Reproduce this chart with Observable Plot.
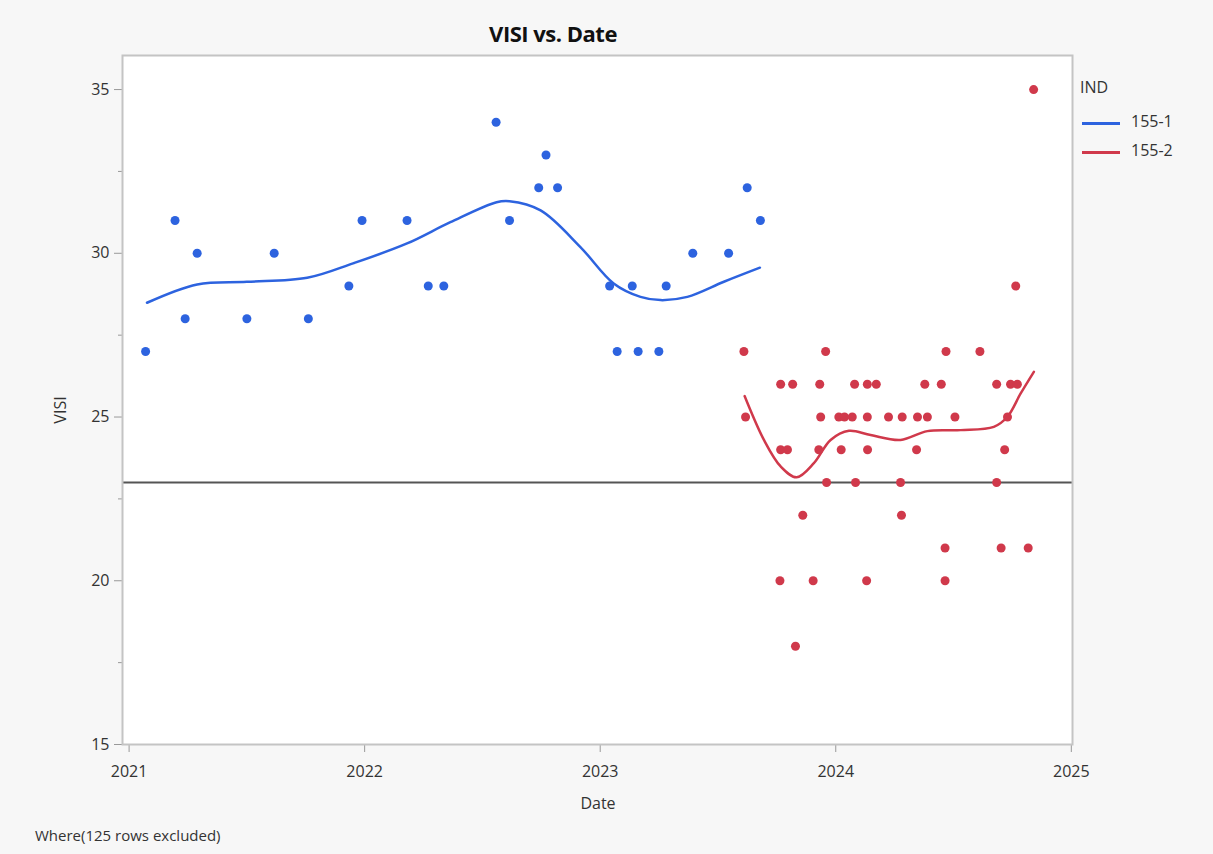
<!DOCTYPE html>
<html><head><meta charset="utf-8">
<script src="https://cdn.jsdelivr.net/npm/d3@7"></script>
<script src="https://cdn.jsdelivr.net/npm/@observablehq/plot@0.6"></script>
<style>
body{margin:0;background:#f7f7f7;font-family:"Open Sans",sans-serif;}
#wrap{position:relative;width:1213px;height:854px;background:#f7f7f7;overflow:hidden;}
#chart{position:absolute;left:0;top:0;}
.t{position:absolute;color:#333;white-space:nowrap;line-height:1;}
.sw{position:absolute;height:3px;width:38px;}
</style></head><body>
<div id="wrap">
  <div id="chart"></div>
  <div class="t" style="left:553px;top:22px;transform:translateX(-50%);font-size:22px;font-weight:bold;color:#111;letter-spacing:-0.5px">VISI vs. Date</div>
  <div class="t" style="left:60px;top:410px;transform:translate(-50%,-50%) rotate(-90deg);font-size:16px">VISI</div>
  <div class="t" style="left:598px;top:795px;transform:translateX(-50%);font-size:16px">Date</div>
  <div class="t" style="left:35px;top:828px;font-size:15px">Where(125 rows excluded)</div>
  <div class="t" style="left:1080px;top:79px;font-size:16px">IND</div>
  <div class="sw" style="left:1082px;top:122px;background:#2D63DF"></div>
  <div class="t" style="left:1131px;top:113px;font-size:16px" id="lg1"></div>
  <div class="sw" style="left:1082px;top:151px;background:#D0394B"></div>
  <div class="t" style="left:1131px;top:142px;font-size:16px" id="lg2"></div>
</div>
<script>
// Categories
const groups = ["155-1", "155-2"];
const colors = ["#2D63DF", "#D0394B"];

// Series 155-1 (decimal year, VISI)
const blueDates = [2021.07, 2021.195, 2021.238, 2021.289, 2021.50, 2021.616, 2021.761, 2021.933, 2021.989, 2022.18, 2022.27, 2022.336, 2022.558, 2022.615, 2022.739, 2022.77, 2022.819, 2023.04, 2023.072, 2023.136, 2023.161, 2023.249, 2023.28, 2023.393, 2023.545, 2023.624, 2023.68];
const blueVisi  = [27, 31, 28, 30, 28, 30, 28, 29, 31, 31, 29, 29, 34, 31, 32, 33, 32, 29, 27, 29, 27, 27, 29, 30, 30, 32, 31];

// Series 155-2
const redDates = [
  2024.840,
  2024.764,
  2023.610, 2023.957, 2024.468, 2024.612,
  2023.766, 2023.817, 2023.932, 2024.080, 2024.134, 2024.172, 2024.378, 2024.448, 2024.683, 2024.742, 2024.771,
  2023.617, 2023.936, 2024.013, 2024.037, 2024.070, 2024.134, 2024.224, 2024.282, 2024.347, 2024.389, 2024.506, 2024.729,
  2023.766, 2023.795, 2023.928, 2024.023, 2024.135, 2024.343, 2024.717,
  2023.961, 2024.084, 2024.275, 2024.683,
  2023.860, 2024.279,
  2024.464, 2024.702, 2024.817,
  2023.763, 2023.904, 2024.131, 2024.464,
  2023.829
];
const redVisi = [
  35,
  29,
  27, 27, 27, 27,
  26, 26, 26, 26, 26, 26, 26, 26, 26, 26, 26,
  25, 25, 25, 25, 25, 25, 25, 25, 25, 25, 25, 25,
  24, 24, 24, 24, 24, 24, 24,
  23, 23, 23, 23,
  22, 22,
  21, 21, 21,
  20, 20, 20, 20,
  18
];

// Smoother fits
const blueFitDates = [2021.076, 2021.289, 2021.50, 2021.756, 2021.954, 2022.18, 2022.364, 2022.56, 2022.615, 2022.747, 2022.916, 2023.057, 2023.171, 2023.256, 2023.37, 2023.525, 2023.678];
const blueFitVisi  = [28.49, 29.05, 29.13, 29.25, 29.70, 30.3, 30.95, 31.56, 31.59, 31.31, 30.19, 29.08, 28.67, 28.57, 28.67, 29.13, 29.56];
const redFitDates = [2023.613, 2023.695, 2023.766, 2023.834, 2023.907, 2023.978, 2024.056, 2024.148, 2024.275, 2024.389, 2024.53, 2024.671, 2024.728, 2024.785, 2024.841];
const redFitVisi  = [25.64, 24.30, 23.49, 23.16, 23.59, 24.30, 24.58, 24.45, 24.30, 24.57, 24.60, 24.70, 25.0, 25.72, 26.38];

// Reference line and ticks
const refLine = 23;
const yTicks = [15, 20, 25, 30, 35];
const yMinor = [17.5, 22.5, 27.5, 32.5];
const xTicks = [2021, 2022, 2023, 2024, 2025];

document.getElementById("lg1").textContent = groups[0];
document.getElementById("lg2").textContent = groups[1];

const pts = [
  ...blueDates.map((d, i) => ({date: d, visi: blueVisi[i], g: groups[0]})),
  ...redDates.map((d, i) => ({date: d, visi: redVisi[i], g: groups[1]}))
];
const fits = [
  ...blueFitDates.map((d, i) => ({date: d, visi: blueFitVisi[i], g: groups[0]})),
  ...redFitDates.map((d, i) => ({date: d, visi: redFitVisi[i], g: groups[1]}))
];

const chart = Plot.plot({
  width: 1213, height: 854,
  marginLeft: 122, marginRight: 141, marginTop: 55, marginBottom: 110,
  style: {background: "transparent", fontFamily: "Open Sans", fontSize: "16px", color: "#333"},
  x: {domain: [2020.972, 2025.005]},
  y: {domain: [15, 36.04]},
  color: {domain: groups, range: colors},
  marks: [
    Plot.frame({fill: "white", stroke: null}),
    Plot.axisY(yTicks, {tickSize: 8, tickPadding: 5, stroke: "#999", label: null}),
    Plot.axisY(yMinor, {tickSize: 4, text: null, stroke: "#999", label: null}),
    Plot.axisX(xTicks, {tickSize: 8, tickPadding: 13, stroke: "#999", tickFormat: "d", label: null}),
    Plot.ruleY([refLine], {stroke: "#555", strokeWidth: 2}),
    Plot.line(fits, {x: "date", y: "visi", z: "g", stroke: "g", strokeWidth: 2.5, curve: "catmull-rom"}),
    Plot.dot(pts, {x: "date", y: "visi", fill: "g", r: 4.5}),
    Plot.frame({stroke: "#c4c4c4", strokeWidth: 2})
  ]
});
document.getElementById("chart").appendChild(chart);
</script>
</body></html>
